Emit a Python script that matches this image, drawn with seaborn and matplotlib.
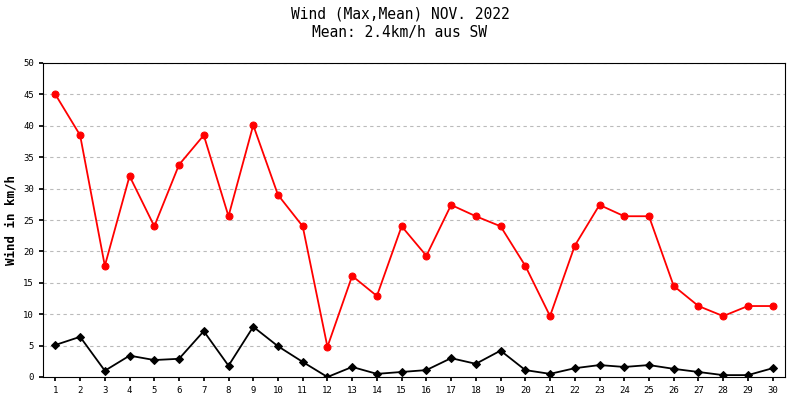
import numpy as np
import pandas as pd
import seaborn as sns
import matplotlib.pyplot as plt

days = list(range(1, 31))
wind_max = [45, 38.5, 17.7, 32, 24, 33.8, 38.5, 25.6, 40.1, 29, 24, 4.8, 16.1, 12.9, 24,
            19.3, 27.4, 25.6, 24, 17.7, 9.7, 20.9, 27.4, 25.6, 25.6, 14.5, 11.3, 9.7, 11.3, 11.3]
wind_mean = [5.1, 6.4, 1.0, 3.4, 2.7, 2.9, 7.3, 1.8, 8.0, 4.9, 2.4, 0, 1.6, 0.5, 0.8,
             1.1, 3.0, 2.1, 4.2, 1.1, 0.5, 1.4, 1.9, 1.6, 1.9, 1.3, 0.8, 0.3, 0.3, 1.4]
y_ticks = list(range(0, 51, 5))

df = pd.DataFrame({"day": days, "max": wind_max, "mean": wind_mean})

sns.set_theme(style="white", font="DejaVu Sans Mono")
fig = plt.figure(figsize=(8, 4), dpi=100)
ax = fig.add_axes([43 / 800, 23 / 400, 742 / 800, 314 / 400])

for y in y_ticks[1:]:
    ax.axhline(y, color="#bbbbbb", lw=0.8, ls=(0, (3, 3)), zorder=0)

sns.lineplot(data=df, x="day", y="max", color="red", marker="o", markersize=5,
             markeredgecolor="red", lw=1.3, ax=ax)
sns.lineplot(data=df, x="day", y="mean", color="black", marker="D", markersize=4,
             markeredgecolor="black", lw=1.3, ax=ax)

ax.set_xlim(0.5, 30.5)
ax.set_ylim(0, 50)
ax.set_xticks(days)
ax.set_yticks(y_ticks)
ax.tick_params(labelsize=6.5, length=3, direction="out", bottom=True, left=True,
               colors="black")
ax.set_xlabel("")
ax.set_ylabel("Wind in km/h", fontsize=9, fontweight="bold", color="black")
for s in ax.spines.values():
    s.set_color("black")
    s.set_linewidth(0.8)

fig.text(0.5, 0.965, "Wind (Max,Mean) NOV. 2022", ha="center", va="center",
         fontsize=10.5, family="DejaVu Sans Mono", color="black")
fig.text(0.5, 0.92, "Mean: 2.4km/h aus SW", ha="center", va="center",
         fontsize=10.5, family="DejaVu Sans Mono", color="black")

fig.savefig("out.png", dpi=100)
